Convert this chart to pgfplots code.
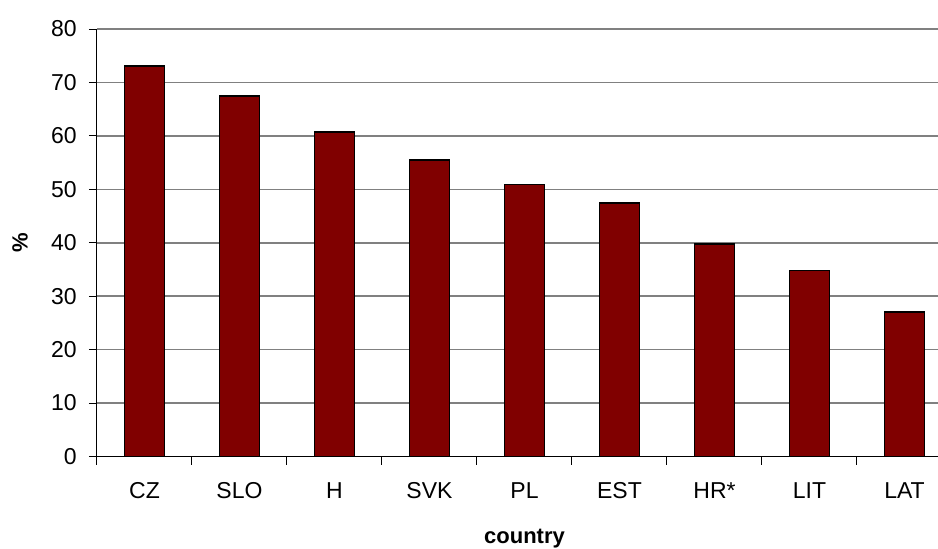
\documentclass[border=0pt]{standalone}
\usepackage{pgfplots}
\pgfplotsset{compat=1.18}
\usepackage{fontspec}
\setmainfont{Liberation Sans}
\definecolor{barred}{HTML}{800000}
\definecolor{gridgray}{HTML}{808080}

\begin{document}
\begin{tikzpicture}
  \begin{scope}
  \clip (0,0) rectangle (469pt,274pt);
  \begin{axis}[
    at={(48.5pt,45.75pt)}, anchor=south west,
    scale only axis,
    width=427.5pt,
    height=213.75pt,
    ybar, bar width=20pt,
    xmin=-0.5, xmax=8.5,
    ymin=0, ymax=80,
    ytick={0,10,...,80},
    xtick={-0.5,0.5,...,8.5},
    x tick label as interval,
    xticklabels={CZ,SLO,H,SVK,PL,EST,HR*,LIT,LAT},
    axis x line=bottom, axis y line=left,
    axis line style={-, black, line width=0.5pt},
    ymajorgrids,
    grid style={gridgray, line width=0.8pt},
    tick align=outside,
    major tick length=4pt,
    tick style={black, line width=0.5pt},
    tick label style={font=\fontsize{11.5}{13}\selectfont},
    label style={font=\fontsize{11}{13}\selectfont},
    /pgf/number format/assume math mode=true,
    yticklabel style={anchor=east, inner sep=0pt, xshift=-6pt},
    xticklabel style={anchor=north, inner sep=0pt, yshift=-9pt},
    xlabel={\textbf{country}},
    ylabel={\textbf{\%}},
    xlabel style={at={(axis description cs:0.5,0)}, anchor=center, yshift=-41.25pt},
    ylabel style={at={(axis description cs:0,0.5)}, anchor=center, yshift=38.5pt},
  ]
    \addplot[fill=barred, draw=black, line width=0.9pt] coordinates {
      (0, 73.1)
      (1, 67.5)
      (2, 60.7)
      (3, 55.5)
      (4, 50.9)
      (5, 47.5)
      (6, 39.7)
      (7, 34.8)
      (8, 27.0)
    };
  \end{axis}
  \end{scope}
  \pgfresetboundingbox
  \useasboundingbox (0,0) rectangle (469pt,274pt);
\end{tikzpicture}
\end{document}
